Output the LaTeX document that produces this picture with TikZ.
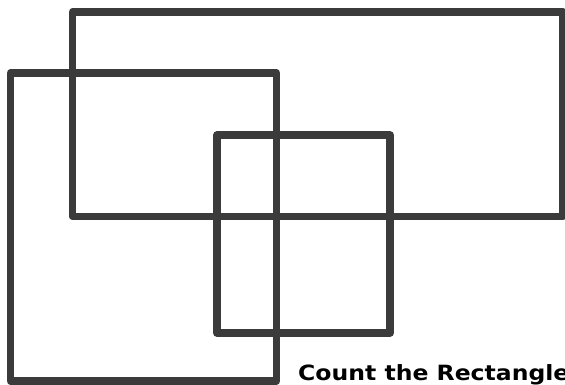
\documentclass[tikz,border=0pt]{standalone}
\usepackage{fontspec}
\setmainfont{DejaVu Sans}
\usepackage{tikz}
\usetikzlibrary{positioning, calc}
\definecolor{framegray}{HTML}{3B3B3B}
\tikzset{
	framebox/.style={draw=framegray, line width=7.5pt, line join=round}
}
\tikzset{
	captiontext/.style={font=\fontsize{21}{24}\selectfont\bfseries, text=black, inner sep=0pt}
}

\begin{document}
\begin{tikzpicture}[x=1pt, y=-1pt]
      \useasboundingbox (0,0) rectangle (565,385);
      % the three overlapping frames
      \draw[framebox] (72.5,12) rectangle (563,216.5);
      \draw[framebox] (10.5,73) rectangle (276.5,381);
      \draw[framebox] (217,135) rectangle (390,333);
      % caption, runs off the right edge
      \node[captiontext, anchor=base west, xscale=1.12, transform shape] (caption) at (298,380) {Count the Rectangle};
    \end{tikzpicture}
\end{document}
